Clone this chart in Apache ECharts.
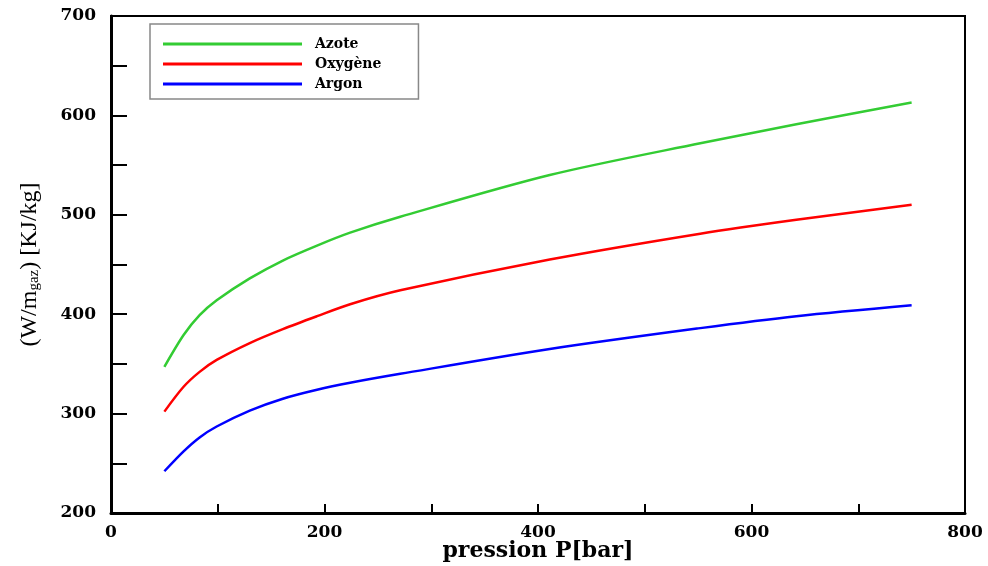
<!DOCTYPE html>
<html>
<head>
<meta charset="utf-8">
<style>
  html, body { margin: 0; padding: 0; background: #fff; }
  #chart { width: 988px; height: 566px; }
</style>
<script src="https://cdn.jsdelivr.net/npm/echarts@6/dist/echarts.min.js"></script>
</head>
<body>
<div id="chart"></div>
<script>
// pression P [bar]
var pression = [50, 68, 83, 99, 130, 161, 193, 224, 271, 411, 552, 642, 750];

// W/m_gaz [KJ/kg]
var azote   = [347, 379, 399, 414, 436, 454, 469, 482, 498, 540, 572, 591, 613];
var oxygene = [302, 327, 342, 354, 371, 385, 398, 410, 424, 455, 481, 495, 510];
var argon   = [242, 262, 276, 287, 303, 315, 324, 331, 340, 365, 386, 398, 409];

var names  = ['Azote', 'Oxygène', 'Argon'];
var colors = ['#33cc33', '#ff0000', '#0000ff'];

function pairs(xs, ys) {
    return xs.map(function (x, i) { return [x, ys[i]]; });
}

var myChart = echarts.init(document.getElementById('chart'));

var serif = 'DejaVu Serif';

var option = {
    animation: false,
    backgroundColor: '#fff',
    grid: {
        left: 111,
        right: 23,
        top: 16,
        bottom: 53,
        outerBoundsMode: 'none',
        containLabel: false,
        show: true,
        borderColor: '#000',
        borderWidth: 2
    },
    legend: {
        orient: 'vertical',
        left: 150,
        top: 24,
        padding: [12, 37, 7, 13],
        itemWidth: 139,
        itemHeight: 3,
        itemGap: 4,
        icon: 'rect',
        borderColor: '#888',
        borderWidth: 1.5,
        textStyle: {
            fontFamily: serif,
            fontWeight: 'bold',
            fontSize: 14,
            lineHeight: 16,
            color: '#000',
            padding: [0, 0, 0, 8]
        },
        data: names
    },
    xAxis: {
        type: 'value',
        min: 0,
        max: 800,
        interval: 100,
        name: 'pression P[bar]',
        nameLocation: 'middle',
        nameGap: 27,
        nameMoveOverlap: false,
        nameTextStyle: {
            fontFamily: serif,
            fontWeight: 'bold',
            fontSize: 22,
            color: '#000'
        },
        splitLine: { show: false },
        axisLine: { lineStyle: { color: '#000', width: 3 } },
        axisTick: { inside: true, length: 9, lineStyle: { color: '#000', width: 2 } },
        axisLabel: {
            margin: 11,
            fontFamily: serif,
            fontWeight: 'bold',
            fontSize: 17,
            color: '#000',
            formatter: function (v) { return v % 200 === 0 ? v : ''; }
        }
    },
    yAxis: {
        type: 'value',
        min: 200,
        max: 700,
        interval: 50,
        name: '{m|(W/m}{s|gaz}{m|) [KJ/kg]}',
        nameLocation: 'middle',
        nameGap: 69,
        nameMoveOverlap: false,
        nameTextStyle: {
            fontFamily: 'Liberation Serif',
            color: '#000',
            rich: {
                m: { fontFamily: 'Liberation Serif', fontSize: 24, color: '#000', verticalAlign: 'bottom', lineHeight: 30 },
                s: { fontFamily: 'Liberation Serif', fontSize: 15, color: '#000', verticalAlign: 'bottom', lineHeight: 22 }
            }
        },
        splitLine: { show: false },
        axisLine: { lineStyle: { color: '#000', width: 3 } },
        axisTick: { inside: true, length: 16, lineStyle: { color: '#000', width: 2 } },
        axisLabel: {
            margin: 15,
            fontFamily: serif,
            fontWeight: 'bold',
            fontSize: 17,
            color: '#000',
            formatter: function (v) { return v % 100 === 0 ? v : ''; }
        }
    },
    series: [
        { name: names[0], data: pairs(pression, azote) },
        { name: names[1], data: pairs(pression, oxygene) },
        { name: names[2], data: pairs(pression, argon) }
    ].map(function (s, i) {
        s.type = 'line';
        s.smooth = 0.3;
        s.showSymbol = false;
        s.symbol = 'none';
        s.color = colors[i];
        s.lineStyle = { color: colors[i], width: 2.5 };
        return s;
    })
};

myChart.setOption(option);
</script>
</body>
</html>
